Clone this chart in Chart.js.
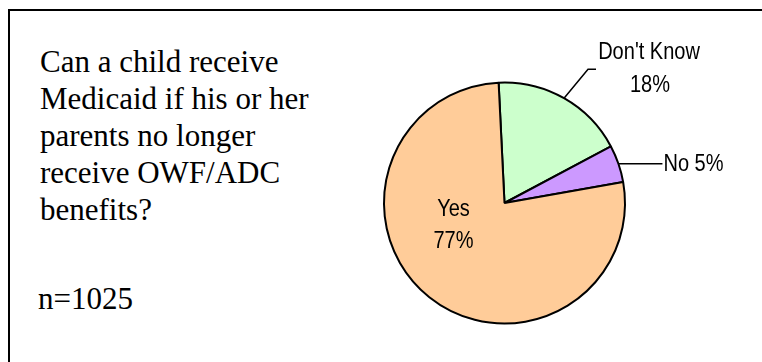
<!DOCTYPE html>
<html>
<head>
<meta charset="utf-8">
<script src="https://cdn.jsdelivr.net/npm/chart.js@4.4.1/dist/chart.umd.min.js"></script>
<style>
  html, body { margin: 0; padding: 0; background: #fff; }
  body { width: 762px; height: 362px; position: relative; overflow: hidden; }
  .quadro {
    position: absolute; left: 8px; top: 9px; width: 800px; height: 400px;
    border-top: 2px solid #000; border-left: 2px solid #000;
  }
  .pergunta {
    position: absolute; left: 40px; top: 43px;
    font-family: "Liberation Serif", "Times New Roman", serif;
    font-size: 31px; line-height: 37px; color: #000;
  }
  .amostra {
    position: absolute; left: 38px; top: 280px;
    font-family: "Liberation Serif", "Times New Roman", serif;
    font-size: 31px; line-height: 37px; color: #000;
  }
  #grafico { position: absolute; left: 0; top: 0; }
</style>
</head>
<body>
<div class="quadro"></div>
<div class="pergunta">Can a child receive<br>Medicaid if his or her<br>parents no longer<br>receive OWF/ADC<br>benefits?</div>
<div class="amostra">n=1025</div>
<canvas id="grafico" width="762" height="362"></canvas>
<script>
// respostas e percentuais
const categorias = ["Don't Know", "No", "Yes"];
const percentuais = [18, 5, 77];
const cores = ["#CCFFCC", "#CC99FF", "#FFCC99"];

// texto um pouco estreito, como no Excel
function escrever(ctx, texto, x, y) {
  ctx.save();
  ctx.translate(x, y);
  ctx.scale(0.87, 1);
  ctx.fillText(texto, 0, 0);
  ctx.restore();
}

// rótulos: "Don't Know" e "No" ficam fora com linha de chamada, "Yes" fica dentro
const rotulos = {
  id: "rotulos",
  afterDatasetsDraw(chart) {
    const ctx = chart.ctx;
    const arcos = chart.getDatasetMeta(0).data;
    ctx.save();
    ctx.font = "23px 'Liberation Sans', Arial, sans-serif";
    ctx.fillStyle = "#000";
    ctx.strokeStyle = "#000";
    ctx.lineWidth = 1.5;
    ctx.textBaseline = "alphabetic";

    arcos.forEach((arco, i) => {
      const meio = (arco.startAngle + arco.endAngle) / 2;
      const bx = arco.x + arco.outerRadius * Math.cos(meio);
      const by = arco.y + arco.outerRadius * Math.sin(meio);
      const texto = categorias[i];
      const pct = percentuais[i] + "%";

      if (i === 0) {
        ctx.beginPath();
        ctx.moveTo(bx, by);
        ctx.lineTo(bx + 24, by - 29);
        ctx.lineTo(bx + 32, by - 29);
        ctx.stroke();
        ctx.textAlign = "center";
        escrever(ctx, texto, bx + 85, by - 39);
        escrever(ctx, pct, bx + 86, by - 6);
      } else if (i === 1) {
        ctx.beginPath();
        ctx.moveTo(bx, by);
        ctx.lineTo(bx + 44, by);
        ctx.stroke();
        ctx.textAlign = "left";
        escrever(ctx, texto + " " + pct, bx + 45, by + 7);
      } else {
        ctx.textAlign = "center";
        escrever(ctx, texto, arco.x - 51, arco.y + 13);
        escrever(ctx, pct, arco.x - 51, arco.y + 45);
      }
    });
    ctx.restore();
  }
};

new Chart(document.getElementById("grafico"), {
  type: "pie",
  data: {
    labels: categorias,
    datasets: [{
      data: percentuais,
      backgroundColor: cores,
      borderColor: "#000",
      borderWidth: 2,
      hoverOffset: 0
    }]
  },
  options: {
    responsive: false,
    animation: false,
    devicePixelRatio: 1,
    rotation: -2.8,
    layout: { padding: { left: 383, right: 136, top: 81, bottom: 37 } },
    events: [],
    plugins: {
      legend: { display: false },
      tooltip: { enabled: false }
    }
  },
  plugins: [rotulos]
});
</script>
</body>
</html>
